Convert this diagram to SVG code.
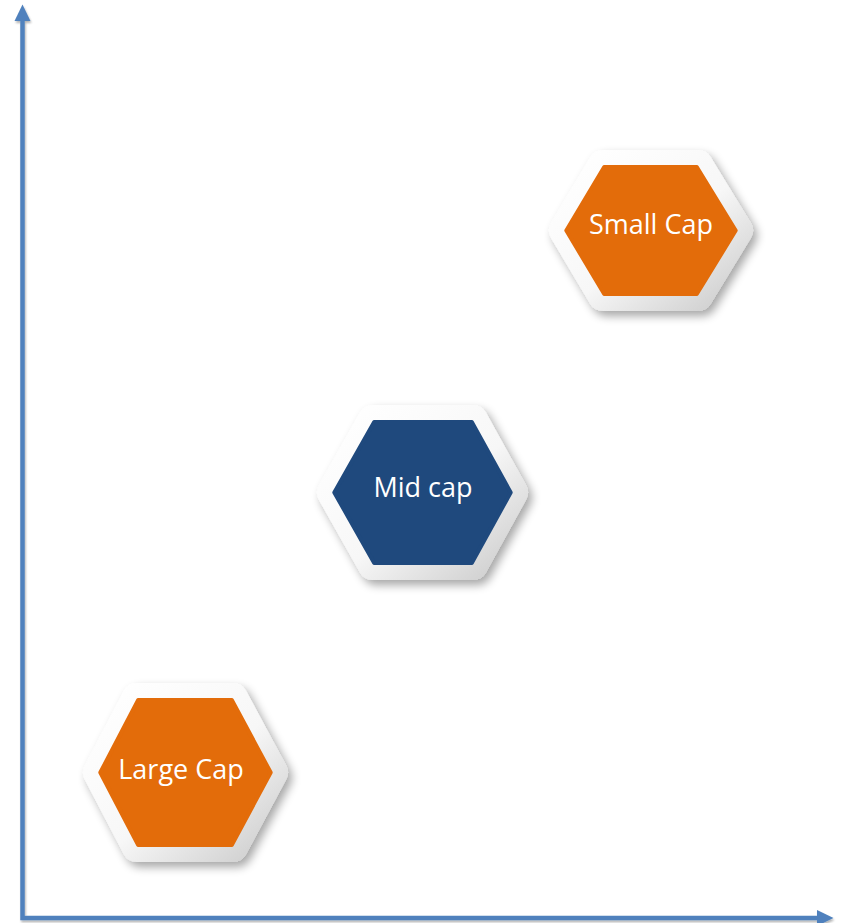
<svg xmlns="http://www.w3.org/2000/svg" width="841" height="923" viewBox="0 0 841 923">
  <defs>
    <style>
      .bevel { stroke-width: 30; stroke-linejoin: round; filter: url(#soft-shadow); }
      .face { stroke-width: 4; stroke-linejoin: round; }
      .orange { fill: #E36C0A; stroke: #E36C0A; }
      .blue { fill: #1F497D; stroke: #1F497D; }
      .label { font-family: "Open Sans", "Liberation Sans", sans-serif; font-size: 27px; fill: #FFFFFF; text-anchor: middle; }
      .axis { fill: none; stroke: #4F81BD; stroke-width: 4.5; stroke-linejoin: miter; filter: url(#axis-shadow); }
    </style>
    <linearGradient id="bevel-grad" x1="0" y1="0" x2="1" y2="1">
      <stop offset="0" stop-color="#FFFFFF"/>
      <stop offset="0.55" stop-color="#F7F7F7"/>
      <stop offset="1" stop-color="#CFCFCF"/>
    </linearGradient>
    <filter id="soft-shadow" x="-20%" y="-20%" width="150%" height="150%">
      <feGaussianBlur in="SourceAlpha" stdDeviation="5"/>
      <feOffset dx="4" dy="5" result="blur"/>
      <feComponentTransfer>
        <feFuncA type="linear" slope="0.35"/>
      </feComponentTransfer>
      <feMerge>
        <feMergeNode/>
        <feMergeNode in="SourceGraphic"/>
      </feMerge>
    </filter>
    <filter id="axis-shadow" x="-5%" y="-5%" width="110%" height="110%">
      <feGaussianBlur in="SourceAlpha" stdDeviation="1.2"/>
      <feOffset dx="1" dy="2"/>
      <feComponentTransfer>
        <feFuncA type="linear" slope="0.3"/>
      </feComponentTransfer>
      <feMerge>
        <feMergeNode/>
        <feMergeNode in="SourceGraphic"/>
      </feMerge>
    </filter>
    <marker id="arrow" markerUnits="userSpaceOnUse" markerWidth="17" markerHeight="17" refX="0" refY="8" orient="auto-start-reverse" viewBox="0 0 17 16">
      <path d="M0,0 L16.5,8 L0,16 Z" fill="#4F81BD"/>
    </marker>
  </defs>

  <!-- axes -->
  <g id="connectors">
    <polyline class="axis" points="22.5,21 22.5,918 817,918" marker-start="url(#arrow)" marker-end="url(#arrow)"/>
  </g>

  <!-- Small Cap -->
  <g id="small-cap">
    <polygon class="bevel" fill="url(#bevel-grad)" stroke="url(#bevel-grad)" points="564,230.5 603,165 698,165 738,230.5 698,296 603,296"/>
    <polygon class="face orange" points="566.3,230.5 604.2,167 696.8,167 735.7,230.5 696.8,294 604.2,294"/>
    <text class="label" x="651" y="234">Small Cap</text>
  </g>

  <!-- Mid cap -->
  <g id="mid-cap">
    <polygon class="bevel" fill="url(#bevel-grad)" stroke="url(#bevel-grad)" points="332,492.5 373,420 473,420 513,492.5 473,565 373,565"/>
    <polygon class="face blue" points="334.3,492.5 374.2,422 471.8,422 510.7,492.5 471.8,563 374.2,563"/>
    <text class="label" x="423" y="497">Mid cap</text>
  </g>

  <!-- Large Cap -->
  <g id="large-cap">
    <polygon class="bevel" fill="url(#bevel-grad)" stroke="url(#bevel-grad)" points="98,772.5 137,698 233,698 273,772.5 233,847 137,847"/>
    <polygon class="face orange" points="100.3,772.5 138.2,700 231.8,700 270.7,772.5 231.8,845 138.2,845"/>
    <text class="label" x="181" y="779">Large Cap</text>
  </g>
</svg>
